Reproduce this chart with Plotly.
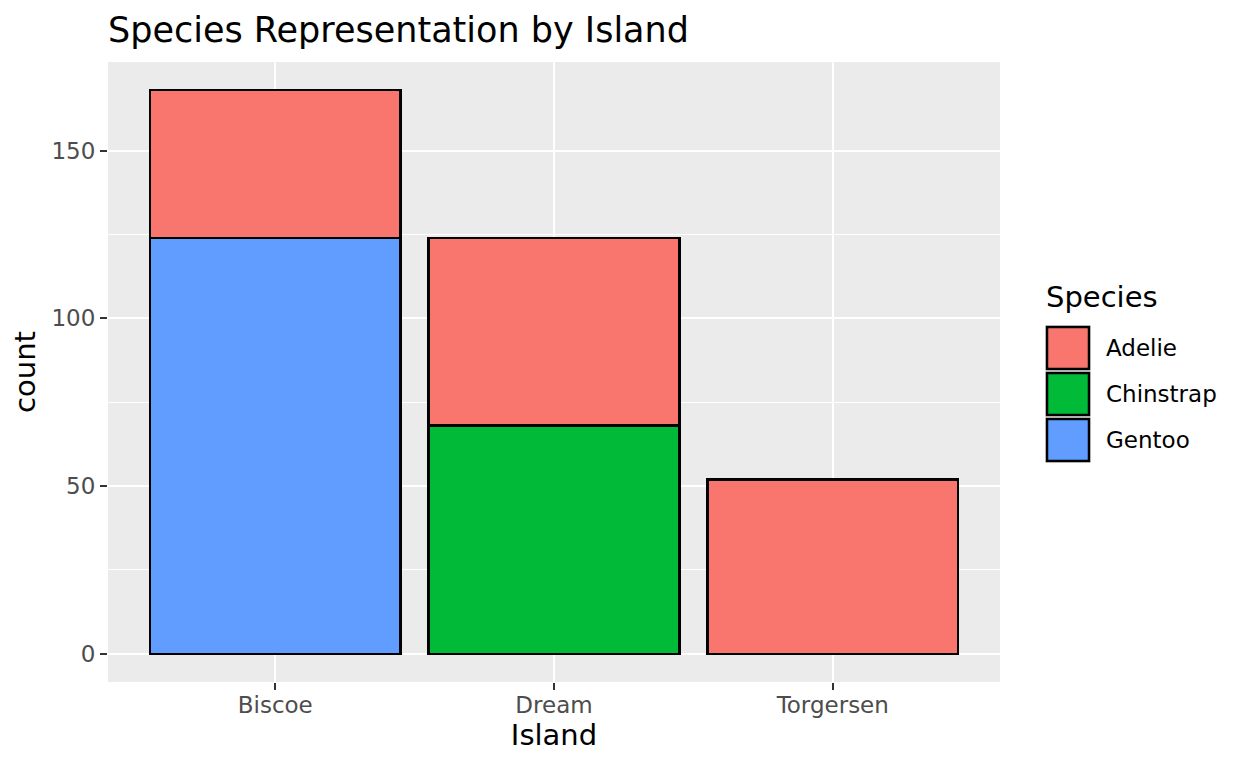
import plotly.graph_objects as go

islands = ["Biscoe", "Dream", "Torgersen"]
species = ["Adelie", "Chinstrap", "Gentoo"]
adelie = [44, 56, 52]
chinstrap = [0, 68, 0]
gentoo = [124, 0, 0]
y_ticks = [0, 50, 100, 150]
y_minor = [25, 75, 125]

colors = {"Adelie": "#F8766D", "Chinstrap": "#00BA38", "Gentoo": "#619CFF"}
values = {"Adelie": adelie, "Chinstrap": chinstrap, "Gentoo": gentoo}

# page-pixel geometry of the plot panel (page has 8px body margin)
OFF = 8
PL, PR, PT, PB = 108, 1000, 62, 682
W, H = 1248, 768


def px_x(x):
    return (x - PL) / (PR - PL)


def px_y(y):
    return (PB - y) / (PB - PT)


fig = go.Figure()
for name in ["Gentoo", "Chinstrap", "Adelie"]:
    fig.add_trace(go.Bar(
        x=islands, y=values[name], name=name, showlegend=False,
        marker=dict(color=colors[name], line=dict(color="black", width=2.5)),
    ))

# manual ggplot-style legend
shapes = []
annotations = []
annotations.append(dict(text="Species", xref="paper", yref="paper", x=px_x(1044), y=px_y(297),
                        xanchor="left", yanchor="middle", showarrow=False,
                        font=dict(size=29, color="black")))
key_top = 325
key_h = 46
for i, name in enumerate(species):
    y0 = key_top + i * key_h
    shapes.append(dict(type="rect", xref="paper", yref="paper",
                       x0=px_x(1045), x1=px_x(1091), y0=px_y(y0), y1=px_y(y0 + key_h),
                       fillcolor="#EBEBEB", line=dict(width=0), layer="above"))
    shapes.append(dict(type="rect", xref="paper", yref="paper",
                       x0=px_x(1047), x1=px_x(1089), y0=px_y(y0 + 2), y1=px_y(y0 + key_h - 2),
                       fillcolor=colors[name], line=dict(color="black", width=2.5), layer="above"))
    annotations.append(dict(text=name, xref="paper", yref="paper", x=px_x(1104),
                            y=px_y(y0 + key_h / 2), xanchor="left", yanchor="middle",
                            showarrow=False, font=dict(size=23, color="black")))

fig.update_layout(
    barmode="stack",
    bargap=0.1,
    width=W, height=H,
    margin=dict(l=PL - OFF, r=W + OFF - PR, t=PT - OFF, b=H + OFF - PB),
    paper_bgcolor="white",
    plot_bgcolor="#EBEBEB",
    font=dict(family="DejaVu Sans", color="black"),
    title=dict(text="Species Representation by Island", x=(108 - OFF) / W, xref="container",
               xanchor="left", y=1 - (30 - OFF) / H, yref="container", yanchor="middle",
               font=dict(size=35, color="black")),
    showlegend=False,
    shapes=shapes,
    annotations=annotations,
)
fig.update_xaxes(
    title=dict(text="Island", font=dict(size=29), standoff=8),
    range=[-0.6, 2.6], showgrid=True, gridcolor="white", gridwidth=2,
    ticks="outside", ticklen=7, tickcolor="#333333", tickwidth=2,
    ticklabelstandoff=-5,
    tickfont=dict(size=23, color="#4D4D4D"), zeroline=False,
)
fig.update_yaxes(
    title=dict(text="count", font=dict(size=29), standoff=8),
    range=[-8.4, 176.4], tickvals=y_ticks, showgrid=True, gridcolor="white", gridwidth=2,
    minor=dict(tickvals=y_minor, showgrid=True, gridcolor="white", gridwidth=1, ticks=""),
    ticks="outside", ticklen=7, tickcolor="#333333", tickwidth=2,
    tickfont=dict(size=23, color="#4D4D4D"), zeroline=False,
)

fig.write_html("out.html")
